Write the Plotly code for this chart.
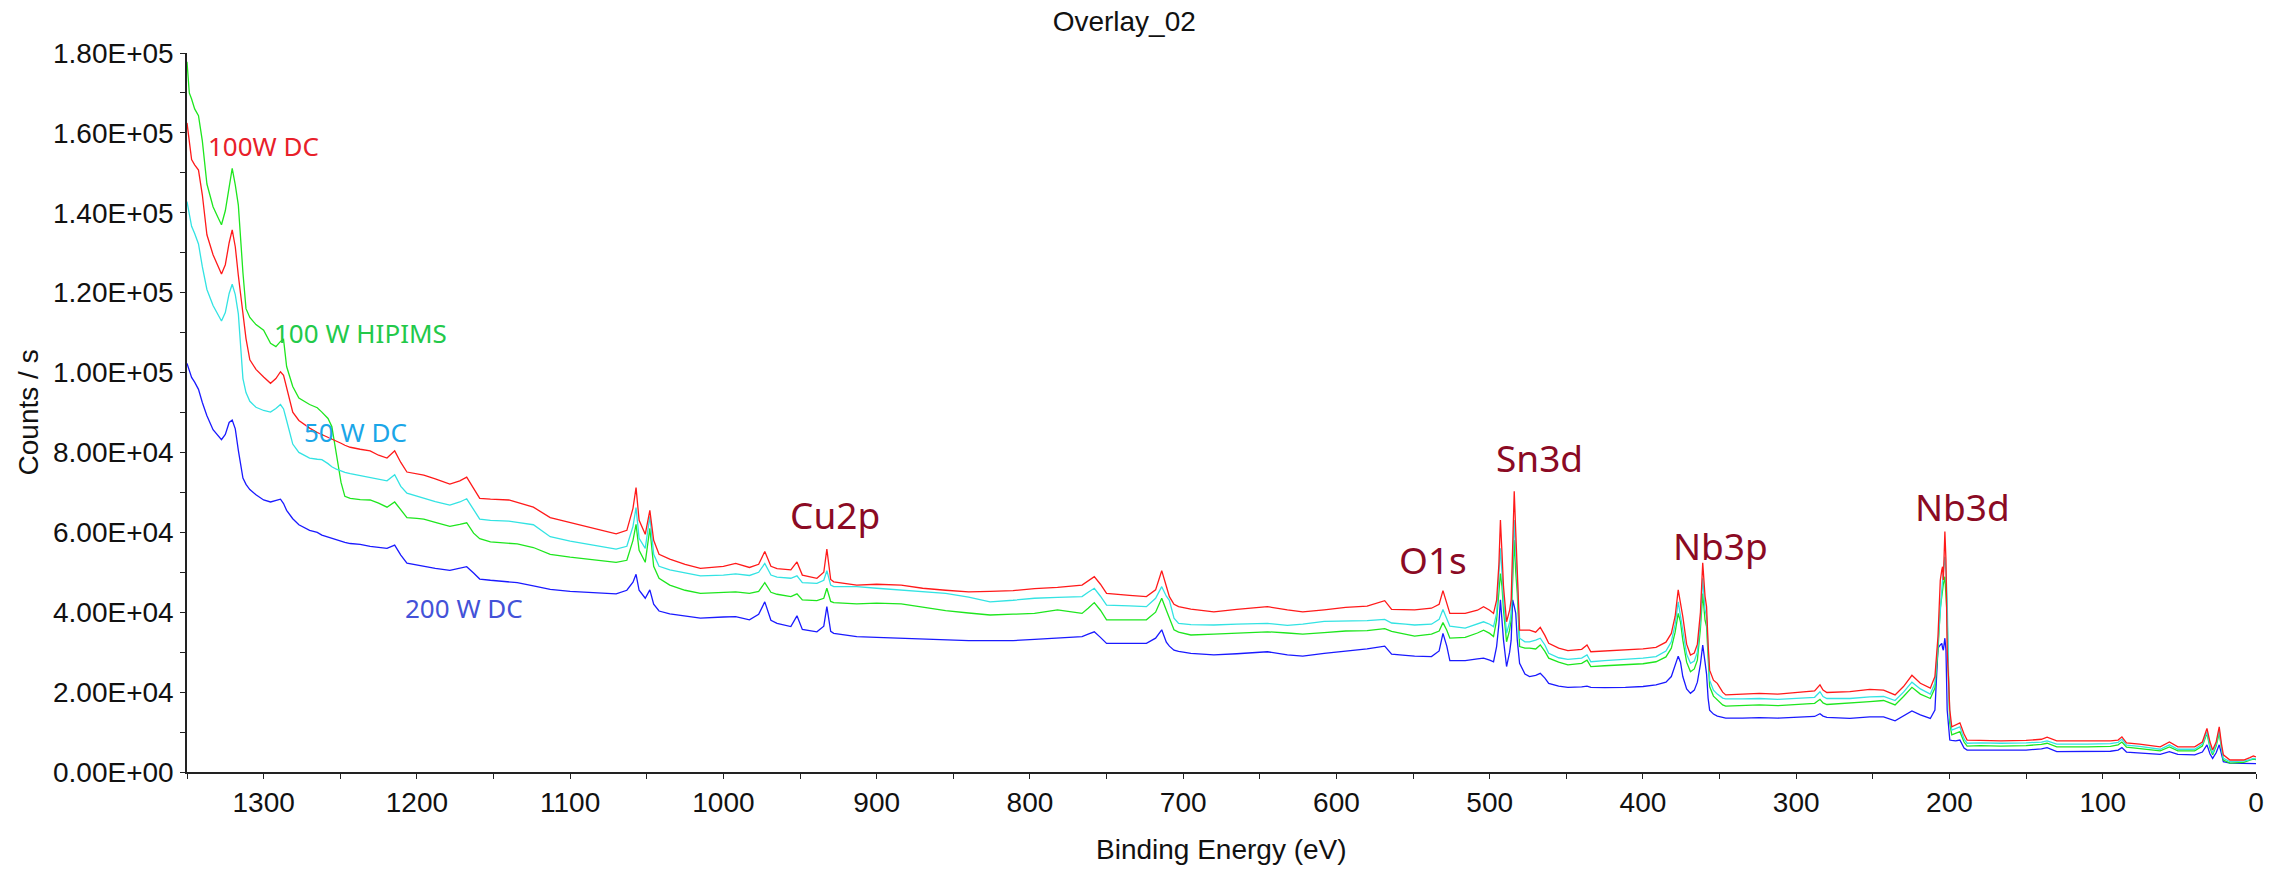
import plotly.graph_objects as go

# Binding energy grid (eV), shared by all four survey spectra
energy_ev = [
    1350, 1348.5, 1347, 1345, 1342.5, 1340, 1337, 1333, 1330, 1327.5,
    1325, 1322.5, 1320.5, 1318.5, 1316.5, 1313.5, 1311.5, 1309, 1305, 1300,
    1295.5, 1292, 1289, 1287, 1285, 1281, 1277, 1270, 1265, 1262,
    1258, 1255.5, 1252.5, 1249.5, 1247, 1243.5, 1237, 1230.5, 1225, 1219.5,
    1214.5, 1210.5, 1206.5, 1200, 1195.5, 1188, 1178.5, 1172, 1167.5, 1163,
    1159, 1152, 1140, 1134.5, 1124, 1113, 1100, 1085, 1070, 1063,
    1059, 1057, 1055, 1051, 1048, 1045.5, 1042, 1035, 1025, 1015,
    1000, 992, 983, 977, 973, 969, 965, 956, 952, 948.5,
    939, 934.5, 932.5, 930, 928, 913, 900, 884, 870, 855,
    840, 826, 811, 797, 782, 766, 762, 758, 754, 750,
    735, 724, 718, 714, 711, 709, 706, 703, 695, 680,
    665, 645, 632, 622, 608, 594, 580, 568.5, 564, 555,
    549, 538, 533, 530.5, 528, 526, 516, 508, 504, 500,
    497.5, 495.5, 494, 493, 492, 491, 489, 487, 486, 485,
    484, 483, 482, 480.5, 477, 474, 470, 467, 464, 461.5,
    455, 449, 440, 436.5, 434, 425, 411.5, 400, 391.5, 385,
    381.5, 379, 377, 375.5, 374, 371.5, 369, 366.5, 364.5, 362.5,
    361, 359.5, 358.5, 357.5, 356.5, 354, 351.5, 348, 346, 335,
    324, 312, 299, 288, 284.5, 282.5, 280, 265, 252, 243,
    235.5, 230, 224.5, 219, 212.5, 209.5, 207.5, 206, 205, 204.5,
    204, 203, 202.3, 201.5, 200.7, 199.8, 198.5, 196, 193.2, 190.5,
    188.5, 180, 166.5, 150, 140, 136.3, 130, 110, 95, 90,
    87.5, 84.5, 76, 62.5, 56.5, 51, 40, 35, 32, 30,
    28.3, 26, 24, 22.5, 21.3, 17, 12, 8, 4, 1.7,
    0,
]

counts_100w_dc = [
    162500, 158000, 153300, 152000, 150700, 144500, 134500, 129500, 126800, 124700,
    127000, 132500, 135700, 131500, 124300, 114000, 108500, 103200, 100800, 98900,
    97300, 98500, 100200, 99300, 96200, 90100, 88000, 86100, 85000, 84500,
    83900, 83500, 83000, 82300, 81800, 81300, 80800, 80400, 79300, 78600,
    80400, 77500, 75100, 74700, 74300, 73400, 72100, 72900, 73800, 71000,
    68500, 68300, 68100, 67500, 66300, 63700, 62500, 61000, 59600, 60500,
    66000, 71200, 63000, 59500, 65500, 58000, 54500, 53300, 52000, 51000,
    51500, 52200, 51200, 52000, 55200, 51500, 50900, 50600, 52600, 49300,
    48500, 50000, 55800, 48200, 47600, 46800, 47000, 46800, 46000, 45500,
    45100, 45200, 45400, 45900, 46200, 46800, 47800, 48900, 47000, 44700,
    44200, 43900, 45600, 50400, 46500, 43900, 42000, 41400, 40800, 40100,
    40700, 41400, 40600, 40100, 40600, 41200, 41500, 42900, 40700, 40700,
    40600, 41000, 42000, 45400, 42500, 39700, 39700, 40500, 41400, 40500,
    39700, 43000, 52000, 63100, 55000, 46400, 37600, 40500, 43100, 55000,
    70300, 60000, 51400, 35500, 35500, 35500, 35000, 36200, 34200, 32200,
    31000, 30400, 30700, 31800, 30100, 30300, 30500, 30800, 31200, 32500,
    34700, 39000, 45600, 42500, 38900, 32000, 29300, 29800, 32000, 40000,
    52400, 44000, 41400, 32000, 25500, 23000, 22200, 20000, 19300, 19500,
    19700, 19500, 19900, 20300, 21800, 20500, 19900, 20100, 20700, 20500,
    19300, 21400, 24200, 22200, 21000, 23900, 33900, 48000, 50600, 51400,
    48100, 60200, 53100, 30500, 24000, 15500, 11300, 11800, 12300, 9500,
    8000, 7900, 7800, 7900, 8200, 8700, 7800, 7800, 7800, 8000,
    8800, 7300, 7000, 6300, 7500, 6300, 6300, 7500, 10900, 7500,
    5500, 7500, 11300, 7000, 4300, 3000, 3000, 3000, 3600, 4000,
    3800,
]

counts_100w_hipims = [
    177800, 170000, 168500, 166000, 164300, 158000, 147200, 141500, 139000, 137000,
    140500, 147000, 151100, 147000, 141900, 125000, 116000, 113800, 112000, 110600,
    107300, 106500, 107800, 108300, 101500, 96500, 93600, 92000, 91200, 90100,
    88500, 86500, 79500, 72500, 69000, 68500, 68200, 68100, 67300, 66300,
    67600, 65500, 63700, 63500, 63300, 62500, 61500, 62000, 62400, 59800,
    58400, 57600, 57300, 57100, 56200, 54500, 53800, 53200, 52500, 53000,
    58000, 62000, 55500, 52500, 61000, 51500, 48500, 46800, 45500, 44700,
    45000, 45100, 44700, 45200, 47400, 45000, 44500, 43900, 44600, 43100,
    42900, 43500, 46000, 42700, 42400, 42100, 42300, 42100, 41300, 40400,
    39800, 39300, 39500, 39700, 40600, 39700, 41000, 42400, 40500, 38100,
    38100, 38100, 40000, 43500, 40500, 38500, 35600, 35000, 34300, 34500,
    34800, 35100, 34800, 34500, 34900, 35300, 35400, 35900, 35200, 34500,
    34000, 34500, 35300, 37400, 35500, 33500, 33700, 34800, 35500, 34700,
    33900, 38000, 44000, 49700, 46500, 40600, 32600, 35500, 38100, 48000,
    58100, 50000, 44700, 31400, 31000, 31000, 30800, 31800, 30200, 28500,
    27500, 26800, 27200, 28000, 26400, 26600, 26800, 27100, 27600, 28800,
    31000, 35000, 39700, 37500, 33000, 27500, 25100, 25800, 28000, 36000,
    44700, 38000, 36400, 28000, 21400, 19000, 18000, 16800, 16500, 16600,
    16800, 16600, 16900, 17200, 18200, 17300, 16900, 17200, 17600, 17900,
    16800, 18900, 21200, 19500, 18400, 21000, 30500, 41000, 44700, 46000,
    47000, 48900, 45000, 38900, 23900, 12200, 9300, 9700, 10100, 7500,
    6500, 6600, 6500, 6600, 6900, 7200, 6300, 6300, 6400, 6800,
    7500, 6200, 5900, 5300, 6300, 5300, 5300, 6500, 9700, 6000,
    4300, 6500, 9700, 5500, 3000, 2200, 2300, 2400, 3000, 3200,
    3100,
]

counts_50w_dc = [
    142800, 139500, 136600, 134800, 132200, 126500, 120800, 116800, 114500, 112900,
    115000, 119800, 122100, 119500, 114700, 98500, 95000, 92800, 91300, 90500,
    90100, 91000, 92000, 90900, 88000, 82100, 80000, 78600, 78300, 78200,
    77200, 76400, 75800, 75300, 75000, 74700, 74200, 73800, 73400, 72900,
    74400, 71500, 69800, 69000, 68500, 67700, 66800, 67600, 68400, 65800,
    63300, 63000, 62800, 62500, 61900, 58900, 57800, 56800, 55800, 56500,
    61500, 66200, 58500, 56000, 64000, 54500, 51500, 50600, 49800, 49100,
    49300, 49600, 49200, 50000, 52200, 49300, 48800, 48500, 49100, 47400,
    47200, 48000, 50400, 46800, 46400, 46400, 46000, 45600, 45200, 44700,
    43800, 42600, 43000, 43500, 43700, 43900, 45000, 46000, 44000, 41800,
    41600, 41400, 43500, 46400, 44000, 43000, 38500, 37200, 36900, 36800,
    37000, 37200, 36700, 37000, 37700, 37800, 37900, 38200, 37300, 37000,
    36800, 37000, 38200, 40700, 38500, 36500, 36000, 37000, 37600, 37000,
    36400, 39700, 48000, 56000, 50000, 43100, 34700, 37500, 39700, 50000,
    63100, 55000, 48100, 33500, 32600, 32600, 33000, 33500, 31800, 29700,
    28600, 28200, 28500, 29300, 27600, 27900, 28200, 28500, 28900, 30300,
    32600, 37000, 42600, 39000, 35500, 29500, 27200, 27800, 30000, 38000,
    48500, 40500, 38900, 30000, 23000, 20500, 19500, 18500, 18300, 18300,
    18400, 18200, 18400, 18700, 20100, 18900, 18400, 18400, 18800, 18900,
    17900, 20000, 22500, 20800, 19500, 22200, 32200, 42000, 45600, 48000,
    50000, 53900, 50000, 43100, 26400, 13800, 10500, 10900, 11300, 8300,
    7200, 7300, 7200, 7300, 7500, 7800, 7000, 7000, 7100, 7400,
    8200, 6700, 6400, 5700, 6800, 5700, 5700, 7000, 10100, 6500,
    4700, 7000, 10500, 6000, 3400, 2600, 2600, 2700, 3100, 3400,
    3300,
]

counts_200w_dc = [
    102300, 100600, 98800, 97600, 95800, 92500, 89200, 85700, 84200, 83200,
    84500, 87500, 88100, 85900, 80500, 73600, 72000, 70700, 69400, 68100,
    67600, 67900, 68300, 67200, 65500, 63400, 61900, 60500, 60000, 59300,
    58800, 58400, 58000, 57800, 57500, 57200, 57000, 56500, 56300, 56000,
    56800, 54300, 52300, 51800, 51400, 51000, 50500, 51000, 51400, 49800,
    48300, 48000, 47600, 47400, 46600, 45700, 45200, 44900, 44600, 45500,
    47500, 49500, 45500, 43500, 45600, 42000, 40300, 39600, 39000, 38500,
    38800, 38900, 38100, 39500, 42600, 38000, 37200, 36400, 39100, 35700,
    35100, 36500, 41400, 35200, 34700, 33900, 33700, 33500, 33200, 33000,
    32900, 32900, 32900, 33200, 33500, 33900, 34500, 35100, 33700, 32200,
    32200, 32200, 33500, 35600, 32500, 31500, 30500, 30200, 29700, 29300,
    29600, 30100, 29300, 29000, 29700, 30300, 30800, 31500, 29500, 29200,
    29000, 28900, 30300, 34700, 31500, 27900, 27900, 28300, 28500, 28000,
    27600, 31400, 37000, 43100, 38500, 33000, 26400, 30000, 33000, 43100,
    41500, 39700, 33000, 27200, 24500, 23900, 24200, 24700, 23500, 22200,
    21500, 21200, 21300, 21500, 21200, 21100, 21200, 21400, 21800, 22500,
    23900, 26500, 29000, 27500, 23900, 20800, 19700, 20500, 22500, 27000,
    31800, 27500, 24500, 18500, 15500, 14500, 14000, 13700, 13500, 13500,
    13600, 13500, 13700, 13900, 14600, 14000, 13700, 13400, 13800, 13800,
    12800, 14000, 15300, 14300, 13400, 15500, 31000, 31800, 32200, 31000,
    30500, 33500, 30500, 15500, 11000, 8000, 7900, 7800, 8000, 6000,
    5500, 5500, 5400, 5500, 5800, 6100, 5100, 5100, 5200, 5500,
    6100, 5000, 4800, 4400, 5100, 4400, 4300, 5000, 6800, 4500,
    3400, 4800, 6800, 4000, 2600, 2200, 2200, 2200, 2100, 2200,
    2100,
]

y_tick_values = [0, 20000, 40000, 60000, 80000, 100000, 120000, 140000, 160000, 180000]
y_tick_labels = ["0.00E+00", "2.00E+04", "4.00E+04", "6.00E+04", "8.00E+04",
                 "1.00E+05", "1.20E+05", "1.40E+05", "1.60E+05", "1.80E+05"]
x_tick_values = [1300, 1200, 1100, 1000, 900, 800, 700, 600, 500, 400, 300, 200, 100, 0]

series = [
    ("200 W DC", counts_200w_dc, "#1a1aff"),
    ("100 W HIPIMS", counts_100w_hipims, "#1ee61e"),
    ("50 W DC", counts_50w_dc, "#33e3e3"),
    ("100W DC", counts_100w_dc, "#ff1a1a"),
]

fig = go.Figure()
for name, vals, color in series:
    fig.add_trace(go.Scatter(
        x=energy_ev, y=vals, mode="lines", name=name,
        line=dict(color=color, width=1.3), showlegend=False,
    ))

tick_font = dict(family="Liberation Sans, Arial, sans-serif", size=28, color="#111111")
axis_common = dict(
    showline=True, linecolor="#222222", linewidth=1.5,
    ticks="outside", ticklen=5, tickwidth=1.3, tickcolor="#222222",
    showgrid=False, zeroline=False, tickfont=tick_font,
)

fig.update_xaxes(
    range=[1350, 0], tickmode="array", tickvals=x_tick_values,
    minor=dict(dtick=50, ticks="outside", ticklen=5, tickwidth=1.3, tickcolor="#222222"),
    **axis_common,
)
fig.update_yaxes(
    range=[0, 180000], tickmode="array", tickvals=y_tick_values, ticktext=y_tick_labels,
    minor=dict(dtick=10000, ticks="outside", ticklen=5, tickwidth=1.3, tickcolor="#222222"),
    ticklabelstandoff=1,
    **axis_common,
)

label_font = "Noto Sans, Open Sans, sans-serif"
# series labels: (text, energy, counts, colour)
series_labels = [
    ("100W DC", 1300.4, 156800, "#e8202a"),
    ("100 W HIPIMS", 1236.8, 109800, "#22c94a"),
    ("50 W DC", 1240.1, 85100, "#1aa6e8"),
    ("200 W DC", 1169.3, 41100, "#4352d8"),
]
peak_labels = [
    ("Cu2p", 927.2, 64400),
    ("O1s", 537.2, 53200),
    ("Sn3d", 467.5, 78800),
    ("Nb3p", 349.7, 56700),
    ("Nb3d", 191.8, 66400),
]

annotations = []
for text, ex, cy, col in series_labels:
    annotations.append(dict(x=ex, y=cy, xref="x", yref="y", text=text, showarrow=False,
                            font=dict(family=label_font, size=26, color=col),
                            xanchor="center", yanchor="middle"))
for text, ex, cy in peak_labels:
    annotations.append(dict(x=ex, y=cy, xref="x", yref="y", text=text, showarrow=False,
                            font=dict(family=label_font, size=37, color="#8b0a24"),
                            xanchor="center", yanchor="middle"))

annotations.append(dict(x=-0.0764, y=0.5, xref="paper", yref="paper", text="Counts / s",
                        textangle=-90, showarrow=False, xanchor="center", yanchor="middle",
                        font=tick_font))
annotations.append(dict(x=0.5, y=-0.108, xref="paper", yref="paper", text="Binding Energy (eV)",
                        showarrow=False, xanchor="center", yanchor="middle", font=tick_font))

fig.update_layout(
    width=2285, height=870,
    margin=dict(l=187, r=29, t=53, b=98),
    paper_bgcolor="white", plot_bgcolor="white",
    title=dict(text="Overlay_02", x=0.492, xref="container", xanchor="center",
               y=1 - 21 / 870, yref="container", yanchor="middle",
               font=tick_font),
    annotations=annotations,
)

fig.write_html("out.html")
